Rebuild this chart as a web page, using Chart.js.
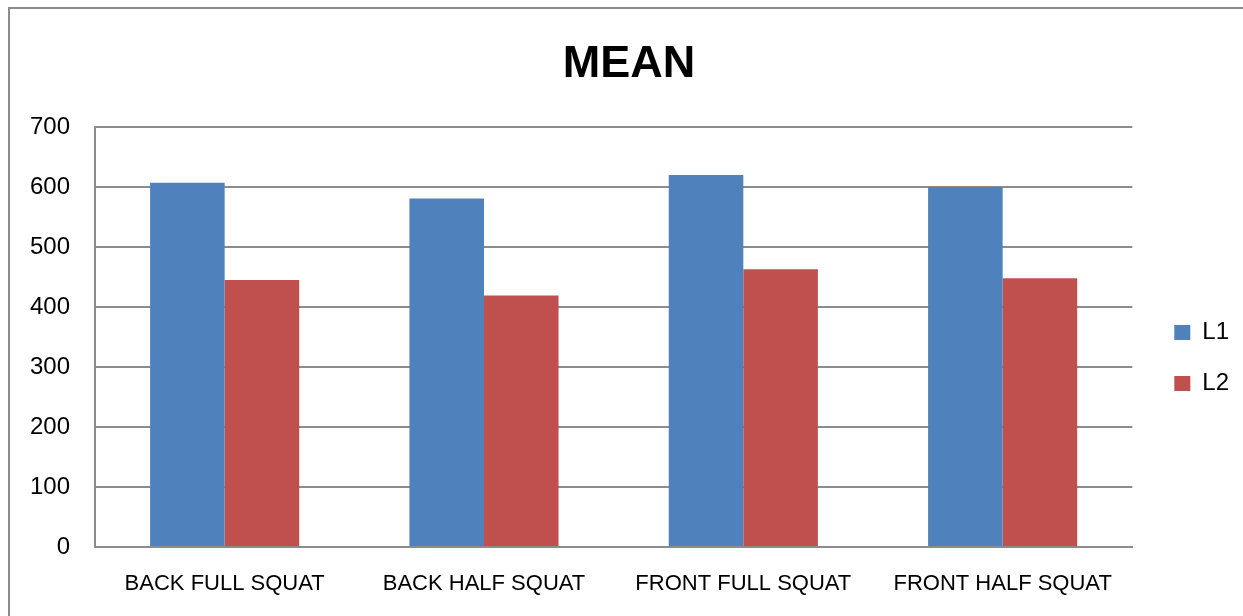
<!DOCTYPE html>
<html>
<head>
<meta charset="utf-8">
<script src="https://cdn.jsdelivr.net/npm/chart.js@4"></script>
<style>
  html, body { margin: 0; padding: 0; background: #fff; overflow: hidden; }
  #wrap { position: relative; width: 1243px; height: 616px; overflow: hidden; }
  #frame { position: absolute; left: 8px; top: 7px; width: 1300px; height: 700px;
           border: 2px solid #8c8c8c; box-sizing: border-box; }
  #plots { position: absolute; left: 0; top: 0; }
</style>
</head>
<body>
<div id="wrap">
  <div id="frame"></div>
  <canvas id="plots" width="1243" height="616"></canvas>
</div>
<script>
// squat variants on the x axis
var categories = ["BACK FULL SQUAT", "BACK HALF SQUAT", "FRONT FULL SQUAT", "FRONT HALF SQUAT"];
// mean values
var l1 = [607, 581, 620, 600];
var l2 = [445, 419, 463, 448];
var yTicks = [0, 100, 200, 300, 400, 500, 600, 700];

var fontFam = "'Liberation Sans', Arial, sans-serif";

// nudge legend and title to where the original puts them
var boxShift = {
  id: 'boxShift',
  afterLayout: function(chart) {
    var lg = chart.legend;
    if (lg) {
      lg.left += 15; lg.right += 15;
      lg.top += 50; lg.bottom += 50;
    }
    var t = chart.titleBlock;
    if (t) { t.left += 12; t.right += 12; }
  }
};

var ctx = document.getElementById("plots").getContext('2d');
var myChart = new Chart(ctx, {
  type: 'bar',
  data: {
    labels: categories,
    datasets: [
      { label: "L1", data: l1, backgroundColor: "#4f81bd", borderWidth: 0 },
      { label: "L2", data: l2, backgroundColor: "#c0504d", borderWidth: 0 }
    ]
  },
  plugins: [boxShift],
  options: {
    responsive: false,
    animation: false,
    layout: { padding: { left: 10, right: 19, top: 0, bottom: 0 } },
    categoryPercentage: 0.575,
    barPercentage: 1,
    plugins: {
      title: {
        display: true,
        text: 'MEAN',
        color: '#000',
        font: { family: fontFam, size: 45, weight: 'bold' },
        padding: { top: 38, bottom: 35 }
      },
      legend: {
        position: 'right',
        labels: {
          color: '#000',
          boxWidth: 16,
          boxHeight: 15,
          padding: 27,
          font: { family: fontFam, size: 24 }
        }
      },
      tooltip: { enabled: false }
    },
    scales: {
      x: {
        grid: { display: false, drawTicks: false },
        border: { color: '#8c8c8c', width: 2 },
        ticks: {
          color: '#000',
          padding: 24,
          maxRotation: 0,
          font: { family: fontFam, size: 22 }
        },
        afterFit: function(scale) { scale.height = 69; }
      },
      y: {
        min: 0,
        max: 700,
        afterBuildTicks: function(scale) {
          scale.ticks = yTicks.map(function(v) { return { value: v }; });
        },
        grid: { color: '#8c8c8c', lineWidth: 2, drawTicks: false },
        border: { color: '#8c8c8c', width: 2 },
        ticks: {
          color: '#000',
          padding: 25,
          font: { family: fontFam, size: 24 }
        },
        afterFit: function(scale) { scale.width = 85; }
      }
    }
  }
});
</script>
</body>
</html>
